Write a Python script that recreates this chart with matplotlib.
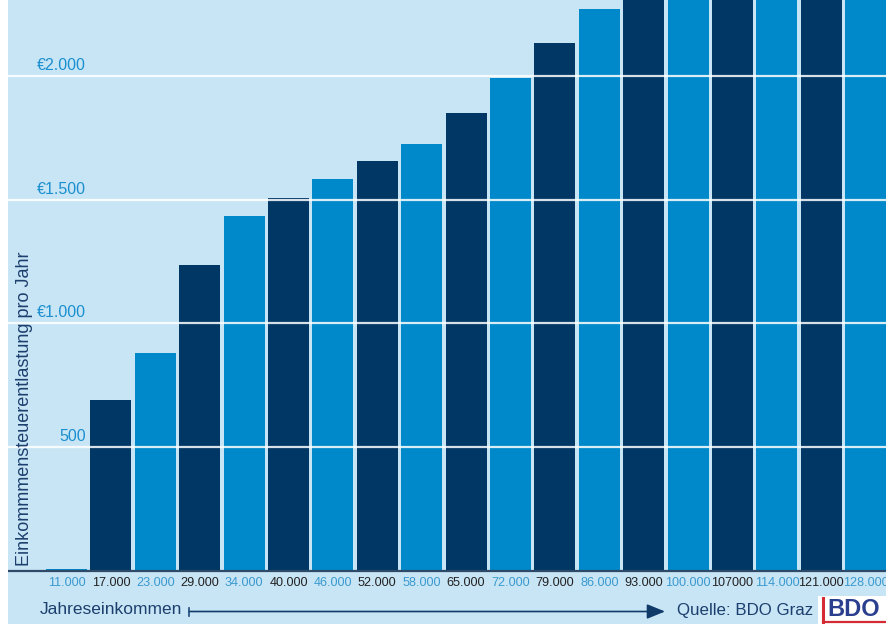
import matplotlib
matplotlib.use('Agg')
import matplotlib.pyplot as plt
from matplotlib.patches import Rectangle
from matplotlib.lines import Line2D

# Data (bars above ~2300 are cut off at the top, values estimated)
incomes = ['11.000', '17.000', '23.000', '29.000', '34.000', '40.000', '46.000',
           '52.000', '58.000', '65.000', '72.000', '79.000', '86.000', '93.000',
           '100.000', '107000', '114.000', '121.000', '128.000']
relief = [8, 689, 879, 1235, 1434, 1508, 1583, 1656, 1724, 1850, 1990, 2131,
          2269, 2400, 2530, 2660, 2790, 2920, 3050]
ytick_values = [500, 1000, 1500, 2000]
ytick_labels = ['500', '€1.000', '€1.500', '€2.000']

bg = '#c8e5f5'
dark = '#003764'
light = '#0089ca'
navy_text = '#1c3f6e'
plt.rcParams['font.family'] = ['Liberation Sans', 'DejaVu Sans']

W, H = 886, 624
fig = plt.figure(figsize=(W / 100, H / 100), dpi=100, facecolor=bg)
# white strip at the very left
fig.patches.append(Rectangle((0, 0), 8 / W, 1, transform=fig.transFigure,
                             facecolor='white', edgecolor='none', zorder=0))

ax = fig.add_axes([8 / W, (H - 571) / H, 878 / W, 571 / H])
ax.set_facecolor(bg)

colors = [light if i % 2 == 0 else dark for i in range(len(relief))]
ax.bar(range(len(relief)), relief, width=0.925, color=colors, zorder=2)

for v in ytick_values:
    ax.axhline(v, color='white', lw=1.6, alpha=0.85, zorder=3)
for v, lab in zip(ytick_values, ytick_labels):
    ax.text(0.44, v + 12, lab, ha='right', va='bottom', color='#1a8fd0',
            fontsize=11.5, zorder=4)

ax.set_xlim(-1.3176, -1.3176 + 878 / 44.4)
ax.set_ylim(0, 2306)
ax.set_yticks([])
ax.set_xticks(range(len(incomes)))
ax.set_xticklabels(incomes, fontsize=9.1)
for i, t in enumerate(ax.get_xticklabels()):
    t.set_color('#3a9ad0' if i % 2 == 0 else '#222222')
ax.tick_params(axis='x', length=0, pad=4)
for s in ['top', 'right', 'left']:
    ax.spines[s].set_visible(False)
ax.spines['bottom'].set_color('#2d4a68')
ax.spines['bottom'].set_linewidth(1.6)
ax.spines['bottom'].set_zorder(5)

fig.text(25 / W, 1 - 409 / H, 'Einkommmensteuerentlastung pro Jahr', rotation=90,
         ha='center', va='center', color=navy_text, fontsize=13)

# bottom axis caption with arrow
fig.text(40 / W, 1 - 610 / H, 'Jahreseinkommen', ha='left', va='center',
         color=navy_text, fontsize=12.5)
ya = 1 - 611.5 / H
fig.lines.append(Line2D([189 / W, 189 / W], [ya - 4 / H, ya + 4 / H],
                        transform=fig.transFigure, color='#1e4a7a', lw=1.2))
ax.annotate('', xy=(665 / W, ya), xytext=(189 / W, ya), xycoords='figure fraction',
            textcoords='figure fraction',
            arrowprops=dict(arrowstyle='-|>,head_length=1.1,head_width=0.45',
                            color='#0f3a6a', lw=1.2, shrinkA=0, shrinkB=0))
fig.text(677 / W, 1 - 610 / H, 'Quelle: BDO Graz', ha='left', va='center',
         color=navy_text, fontsize=12.2)

# BDO logo
fig.patches.append(Rectangle((818 / W, 0), 68 / W, 28 / H, transform=fig.transFigure,
                             facecolor='white', edgecolor='none', zorder=1))
fig.lines.append(Line2D([823 / W, 823 / W], [2 / H, 26 / H], transform=fig.transFigure,
                        color='#d52b35', lw=2.2, zorder=2))
fig.lines.append(Line2D([823 / W, 886 / W], [2 / H, 2 / H], transform=fig.transFigure,
                        color='#d52b35', lw=1.6, zorder=2))
fig.text(827 / W, 14 / H, 'BDO', ha='left', va='center', color='#2b3f8f',
         fontsize=17, fontweight='bold', zorder=3)

fig.savefig('out.png', dpi=100, facecolor=bg)
